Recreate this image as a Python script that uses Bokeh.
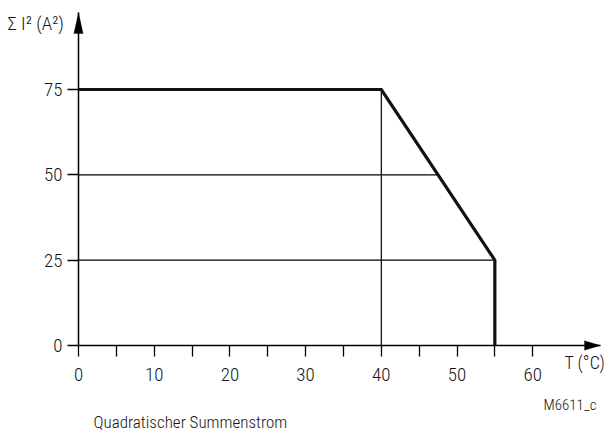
import numpy as np
from bokeh.plotting import figure
from bokeh.models import Range1d, FixedTicker, Label, PolyAnnotation
from bokeh.embed import file_html
from bokeh.resources import INLINE

# ---- data ----
curve_temp = [0, 40, 55, 55]          # T (°C)
curve_isq = [75, 75, 25, 0]           # Σ I² (A²)
x_ticks = [0, 5, 10, 15, 20, 25, 30, 35, 40, 45, 50, 55, 60]
x_tick_labels = ["0", "", "10", "", "20", "", "30", "", "40", "", "50", "", "60"]
y_ticks = [0, 25, 50, 75]
y_tick_labels = ["0", "25", "50", "75"]
guide_levels = [50, 25]               # horizontal helper lines
guide_temp = 40                       # vertical helper line

FONT = "Roboto Condensed Light"
TXT = "#161616"

W, H = 610, 434
X0, Y0 = 78, 345            # pixel position of the origin
SX, SY = 7.57, 3.4133       # pixels per unit
x_rng = (-X0 / SX, (W - X0) / SX)
y_rng = (-(H - Y0) / SY, Y0 / SY)
X_END = (600 - X0) / SX     # arrow tip of T axis
Y_END = (Y0 - 12) / SY      # arrow tip of ΣI² axis

p = figure(width=W, height=H, output_backend="svg", toolbar_location=None,
           x_range=Range1d(*x_rng), y_range=Range1d(*y_rng),
           min_border_left=0, min_border_right=0, min_border_top=0,
           min_border_bottom=0)
p.outline_line_color = None
p.xgrid.visible = False
p.ygrid.visible = False
p.background_fill_color = "white"

for ax in (p.xaxis[0], p.yaxis[0]):
    ax.fixed_location = 0
    ax.axis_line_color = "black"
    ax.axis_line_width = 1.5
    ax.major_tick_line_color = "black"
    ax.major_tick_line_width = 1.3
    ax.major_tick_in = 0
    ax.major_tick_out = 11
    ax.minor_tick_line_color = None
    ax.major_label_text_font = FONT
    ax.major_label_text_font_size = "19px"
    ax.major_label_text_color = TXT

p.xaxis[0].bounds = (0, X_END)
p.yaxis[0].bounds = (0, Y_END)
p.xaxis[0].ticker = FixedTicker(ticks=x_ticks)
p.xaxis[0].major_label_overrides = {t: l for t, l in zip(x_ticks, x_tick_labels)}
p.xaxis[0].major_label_standoff = 11
p.yaxis[0].ticker = FixedTicker(ticks=y_ticks)
p.yaxis[0].major_label_overrides = {t: l for t, l in zip(y_ticks, y_tick_labels)}
p.yaxis[0].major_label_standoff = 5

# helper lines
x_cross = float(np.interp(guide_levels[0], curve_isq[2:0:-1], curve_temp[2:0:-1]))
p.line([0, x_cross], [guide_levels[0], guide_levels[0]], line_color="black", line_width=1.2)
p.line([0, curve_temp[2]], [guide_levels[1], guide_levels[1]], line_color="black", line_width=1.2)
p.line([guide_temp, guide_temp], [0, curve_isq[1]], line_color="black", line_width=1.2)

# derating curve
p.line(curve_temp, curve_isq, line_color="#111111", line_width=3.2, line_join="miter")

# arrow heads
hl, hw = 16 / SX, 4.7 / SY
p.add_layout(PolyAnnotation(xs=[X_END, X_END - hl, X_END - hl], ys=[0, hw, -hw],
                            fill_color="black", fill_alpha=1, line_color="black",
                            line_width=1))
hl, hw = 21 / SY, 4.6 / SX
p.add_layout(PolyAnnotation(xs=[0, hw, -hw], ys=[Y_END, Y_END - hl, Y_END - hl],
                            fill_color="black", fill_alpha=1, line_color="black",
                            line_width=1))

def lab(text, px, py, size="18px"):
    p.add_layout(Label(x=(px - X0) / SX, y=(Y0 - py) / SY, text=text, text_font=FONT,
                       text_font_size=size, text_color=TXT, text_align="left",
                       text_baseline="middle"))

lab("Σ  I² (A²)", 7, 23, size="19px")
lab("T (°C)", 564, 362, size="18px")
lab("M6611_c", 543, 404, size="15px")
lab("Quadratischer Summenstrom", 93, 421, size="17px")

open("out.html", "w").write(file_html(p, INLINE))
